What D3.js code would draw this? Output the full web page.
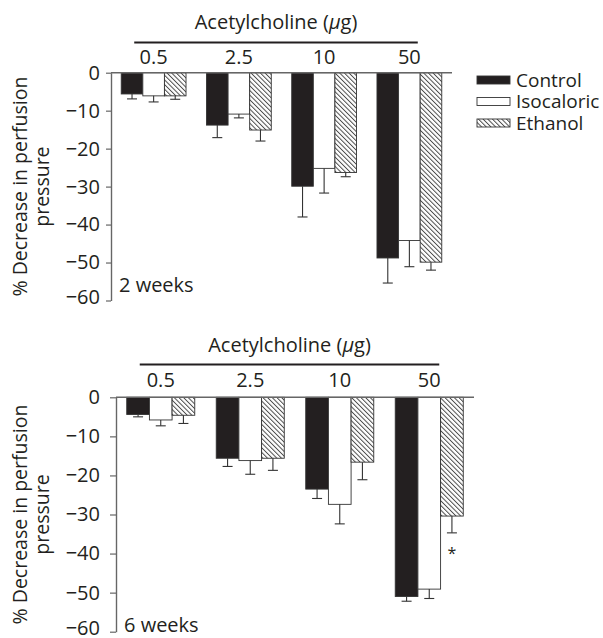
<!DOCTYPE html>
<html>
<head>
<meta charset="utf-8">
<script src="https://cdn.jsdelivr.net/npm/d3@7/dist/d3.min.js"></script>
<style>
  body { margin: 0; background: #fff; }
  text { font-family: "Open Sans", "Noto Sans", sans-serif; fill: #231f20; }
</style>
</head>
<body>
<div id="chart"></div>
<script>
// acetylcholine doses and diet groups
var doses = ["0.5", "2.5", "10", "50"];
var groups = ["Control", "Isocaloric", "Ethanol"];
var yTicks = [0, -10, -20, -30, -40, -50, -60];

// 2 weeks: mean % decrease, and error (SEM) length
var w2Control = [-5.6, -13.8, -29.9, -48.8];
var w2Iso = [-6.1, -10.9, -25.2, -44.2];
var w2Ethanol = [-6.1, -15.1, -26.3, -49.9];
var w2ControlErr = [1.3, 3.3, 8.1, 6.6];
var w2IsoErr = [1.6, 1.0, 6.5, 6.9];
var w2EthanolErr = [0.9, 2.9, 1.1, 2.1];

// 6 weeks
var w6Control = [-4.4, -15.6, -23.5, -51.0];
var w6Iso = [-5.8, -16.2, -27.4, -49.1];
var w6Ethanol = [-4.6, -15.6, -16.6, -30.4];
var w6ControlErr = [0.6, 2.1, 2.4, 1.2];
var w6IsoErr = [1.5, 3.5, 5.0, 2.4];
var w6EthanolErr = [2.1, 3.1, 4.5, 4.3];

var W = 603, H = 638;
var FS = "20px";

var svg = d3.select("#chart").append("svg")
    .attr("width", W)
    .attr("height", H);

// diagonal hatch for the ethanol bars
var defs = svg.append("defs");
var pat = defs.append("pattern")
    .attr("id", "hatch")
    .attr("patternUnits", "userSpaceOnUse")
    .attr("width", 3.3)
    .attr("height", 10)
    .attr("patternTransform", "rotate(-45)");
pat.append("rect").attr("width", 3.3).attr("height", 10).attr("fill", "#fff");
pat.append("line")
    .attr("x1", 0.5).attr("y1", 0).attr("x2", 0.5).attr("y2", 10)
    .attr("stroke", "#3a3a3a").attr("stroke-width", 0.9);

function fillOf(g) {
  if (g == "Control") return "#231f20";
  if (g == "Isocaloric") return "#fff";
  return "url(#hatch)";
}

var panels = [
  { label: "2 weeks", means: [w2Control, w2Iso, w2Ethanol], errs: [w2ControlErr, w2IsoErr, w2EthanolErr],
    x0: 111, x1: 452, y0: 72.7, y1: 300.5, pad: 6, tick: 5,
    headY: 42.5, titleY: 29, labY: 64, noteX: 119, noteY: 292, star: false },
  { label: "6 weeks", means: [w6Control, w6Iso, w6Ethanol], errs: [w6ControlErr, w6IsoErr, w6EthanolErr],
    x0: 116, x1: 474, y0: 397.3, y1: 631.7, pad: 10, tick: 6,
    headY: 364.5, titleY: 352, labY: 387, noteX: 124, noteY: 632, star: true }
];

panels.forEach(function(p) {

  var x = d3.scaleBand().domain(doses).range([p.x0, p.x1]).paddingInner(0.24).paddingOuter(0.12);
  var xs = d3.scaleBand().domain(groups).range([0, x.bandwidth()]);
  var y = d3.scaleLinear().domain([0, -60]).range([p.y0, p.y1]);

  var g = svg.append("g");

  // y axis
  var ax = g.append("g")
      .attr("transform", "translate(" + p.x0 + ",0)")
      .call(d3.axisLeft(y).tickValues(yTicks).tickSize(p.tick).tickSizeOuter(0).tickPadding(p.pad));
  ax.select(".domain").attr("stroke", "#666").attr("stroke-width", 1.4);
  ax.selectAll(".tick line").attr("stroke", "#666").attr("stroke-width", 1.2);
  ax.selectAll(".tick text")
      .style("font-family", "'Open Sans', sans-serif")
      .style("font-size", FS)
      .attr("fill", "#231f20");
  // keep the lowest label inside the picture
  ax.selectAll(".tick text").filter(function(d) { return d == -60; }).attr("dy", "0.15em");

  // bars
  groups.forEach(function(gr, k) {
    var rows = doses.map(function(d, i) { return { dose: d, v: p.means[k][i], e: p.errs[k][i] }; });

    g.selectAll(null).data(rows).enter().append("rect")
        .attr("x", function(d) { return x(d.dose) + xs(gr); })
        .attr("y", y(0))
        .attr("width", xs.bandwidth())
        .attr("height", function(d) { return y(d.v) - y(0); })
        .attr("fill", fillOf(gr))
        .attr("stroke", "#333")
        .attr("stroke-width", 0.9);

    // error bars (downward only)
    var eb = g.selectAll(null).data(rows).enter().append("g")
        .attr("stroke", "#333").attr("stroke-width", 1.1);
    eb.append("line")
        .attr("x1", function(d) { return x(d.dose) + xs(gr) + xs.bandwidth() / 2; })
        .attr("x2", function(d) { return x(d.dose) + xs(gr) + xs.bandwidth() / 2; })
        .attr("y1", function(d) { return y(d.v); })
        .attr("y2", function(d) { return y(d.v - d.e); });
    eb.append("line")
        .attr("x1", function(d) { return x(d.dose) + xs(gr) + xs.bandwidth() / 2 - 5; })
        .attr("x2", function(d) { return x(d.dose) + xs(gr) + xs.bandwidth() / 2 + 5; })
        .attr("y1", function(d) { return y(d.v - d.e); })
        .attr("y2", function(d) { return y(d.v - d.e); });

    if (p.star && gr == "Ethanol") {
      var last = rows[rows.length - 1];
      g.append("text")
          .attr("x", x(last.dose) + xs(gr) + xs.bandwidth() / 2)
          .attr("y", y(last.v - last.e) + 26)
          .attr("text-anchor", "middle")
          .style("font-size", "16px")
          .attr("fill", "#555")
          .text("*");
    }
  });

  // zero line over bar tops
  g.append("line")
      .attr("x1", p.x0).attr("x2", p.x1)
      .attr("y1", y(0)).attr("y2", y(0))
      .attr("stroke", "#666").attr("stroke-width", 1.4);

  // dose header
  var hx0 = x(doses[0]) + 13;
  var hx1 = x(doses[doses.length - 1]) + x.bandwidth() - 24;
  g.append("line")
      .attr("x1", hx0).attr("x2", hx1)
      .attr("y1", p.headY).attr("y2", p.headY)
      .attr("stroke", "#231f20").attr("stroke-width", 1.8);

  var t = g.append("text")
      .attr("x", (hx0 + hx1) / 2)
      .attr("y", p.titleY)
      .attr("text-anchor", "middle")
      .style("font-size", FS);
  t.append("tspan").text("Acetylcholine (");
  t.append("tspan").style("font-style", "italic").text("\u03bc");
  t.append("tspan").text("g)");

  g.selectAll(null).data(doses).enter().append("text")
      .attr("x", function(d) { return x(d) + x.bandwidth() / 2; })
      .attr("y", p.labY)
      .attr("text-anchor", "middle")
      .style("font-size", FS)
      .text(function(d) { return d; });

  // y label, two lines
  var cy = (p.y0 + p.y1) / 2;
  var yl = g.append("text")
      .attr("transform", "translate(27," + cy + ") rotate(-90)")
      .attr("text-anchor", "middle")
      .style("font-size", "19.5px");
  yl.append("tspan").attr("x", 0).attr("y", 0).text("% Decrease in perfusion");
  yl.append("tspan").attr("x", 0).attr("y", 22).text("pressure");

  g.append("text")
      .attr("x", p.noteX)
      .attr("y", p.noteY)
      .style("font-size", FS)
      .text(p.label);
});

// legend
var leg = svg.append("g").attr("transform", "translate(477,80)");
groups.forEach(function(gr, i) {
  var row = leg.append("g").attr("transform", "translate(0," + (i * 21.5) + ")");
  row.append("rect")
      .attr("x", 0).attr("y", -4)
      .attr("width", 33).attr("height", 8)
      .attr("fill", fillOf(gr))
      .attr("stroke", "#333").attr("stroke-width", 0.9);
  row.append("text")
      .attr("x", 39).attr("y", 0)
      .attr("dy", "0.35em")
      .style("font-size", "19px")
      .text(gr);
});
</script>
</body>
</html>
